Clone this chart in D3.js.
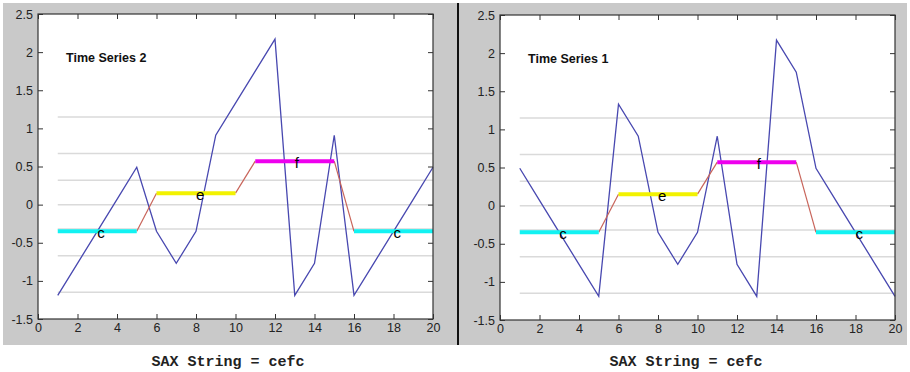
<!DOCTYPE html>
<html>
<head>
<meta charset="utf-8">
<script src="https://cdn.jsdelivr.net/npm/d3@7"></script>
<style>
	body { margin: 0; background: #fff; }
	svg { display: block; }
	.tick text { font-family: "Liberation Sans", Arial, sans-serif; font-size: 12.5px; fill: #222; }
	.tick line { stroke: #333; }
</style>
</head>
<body>
<div id="chart"></div>
<script>
// x = sample index
var xs = [1, 2, 3, 4, 5, 6, 7, 8, 9, 10, 11, 12, 13, 14, 15, 16, 17, 18, 19, 20];
var series2 = [-1.19, -0.77, -0.35, 0.07, 0.49, -0.35, -0.77, -0.35, 0.91, 1.33,
	1.75, 2.17, -1.19, -0.77, 0.91, -1.19, -0.77, -0.35, 0.07, 0.49];
var series1 = [0.49, 0.07, -0.35, -0.77, -1.19, 1.33, 0.91, -0.35, -0.77, -0.35,
	0.91, -0.77, -1.19, 2.17, 1.75, 0.49, 0.07, -0.35, -0.77, -1.19];

// SAX word (same for both)
var saxLetters = ["c", "e", "f", "c"];
var saxLevels = [-0.35, 0.15, 0.57, -0.35];
var segStart = [1, 6, 11, 16];
var segEnd = [5, 10, 15, 20];
var letterColor = {"c": "#12f2f2", "e": "#f2f200", "f": "#ee00ee"};

// breakpoints (alphabet of 8)
var breakpoints = [-1.15, -0.67, -0.32, 0, 0.32, 0.67, 1.15];

var xTicks = [0, 2, 4, 6, 8, 10, 12, 14, 16, 18, 20];
var yTicks = [-1.5, -1, -0.5, 0, 0.5, 1, 1.5, 2, 2.5];

var titles = ["Time Series 2", "Time Series 1"];
var captions = ["SAX String = cefc", "SAX String = cefc"];

var svg = d3.select("#chart").append("svg")
	.attr("width", 910)
	.attr("height", 372);

// grey figure background + divider
svg.append("rect")
	.attr("x", 3).attr("y", 3)
	.attr("width", 904).attr("height", 342)
	.attr("fill", "#c9c9c9");
svg.append("line")
	.attr("x1", 458).attr("x2", 458)
	.attr("y1", 3).attr("y2", 345)
	.attr("stroke", "#111")
	.attr("stroke-width", 2);

var panels = [
	{data: series2, title: titles[0], caption: captions[0], left: 38, right: 433, top: 14, bottom: 319, cx: 228},
	{data: series1, title: titles[1], caption: captions[1], left: 500, right: 895, top: 15, bottom: 320, cx: 686}
];

panels.forEach(function(p) {
	var xScale = d3.scaleLinear().domain([0, 20]).range([p.left, p.right]);
	var yScale = d3.scaleLinear().domain([-1.5, 2.5]).range([p.bottom, p.top]);

	var g = svg.append("g");

	g.append("rect")
		.attr("x", p.left).attr("y", p.top)
		.attr("width", p.right - p.left)
		.attr("height", p.bottom - p.top)
		.attr("fill", "#fff");

	// breakpoint lines
	g.selectAll(".bp")
		.data(breakpoints)
		.enter()
		.append("line")
		.attr("class", "bp")
		.attr("x1", xScale(xs[0]))
		.attr("x2", xScale(xs[xs.length - 1]))
		.attr("y1", function(d) { return yScale(d); })
		.attr("y2", function(d) { return yScale(d); })
		.attr("stroke", "#dadada")
		.attr("stroke-width", 1.5);

	// raw series
	var line = d3.line()
		.x(function(d, i) { return xScale(xs[i]); })
		.y(function(d) { return yScale(d); });
	g.append("path")
		.datum(p.data)
		.attr("d", line)
		.attr("fill", "none")
		.attr("stroke", "#4848b0")
		.attr("stroke-width", 1.3);

	// connectors between PAA segments
	for (var i = 0; i < saxLevels.length - 1; i++) {
		g.append("line")
			.attr("x1", xScale(segEnd[i]))
			.attr("y1", yScale(saxLevels[i]))
			.attr("x2", xScale(segStart[i + 1]))
			.attr("y2", yScale(saxLevels[i + 1]))
			.attr("stroke", "#c8645a")
			.attr("stroke-width", 1.2);
	}

	// PAA segments
	g.selectAll(".seg")
		.data(saxLevels)
		.enter()
		.append("line")
		.attr("class", "seg")
		.attr("x1", function(d, i) { return xScale(segStart[i]); })
		.attr("x2", function(d, i) { return xScale(segEnd[i]); })
		.attr("y1", function(d) { return yScale(d); })
		.attr("y2", function(d) { return yScale(d); })
		.attr("stroke", function(d, i) { return letterColor[saxLetters[i]]; })
		.attr("stroke-width", 4);

	g.selectAll(".letter")
		.data(saxLevels)
		.enter()
		.append("text")
		.attr("class", "letter")
		.attr("x", function(d, i) { return xScale(segStart[i] + 2); })
		.attr("y", function(d) { return yScale(d) + 6.5; })
		.style("font-family", "Liberation Sans, Arial, sans-serif")
		.style("font-size", "15px")
		.attr("fill", "#000")
		.text(function(d, i) { return saxLetters[i]; });

	g.append("text")
		.attr("x", p.left + 28)
		.attr("y", p.top + 48)
		.style("font-family", "Liberation Sans, Arial, sans-serif")
		.style("font-size", "12.5px")
		.style("font-weight", "bold")
		.attr("fill", "#111")
		.text(p.title);

	// axes, ticks pointing inward
	g.append("g")
		.attr("transform", "translate(0," + p.bottom + ")")
		.call(d3.axisBottom(xScale).tickValues(xTicks).tickSize(-5).tickPadding(4)
			.tickFormat(function(d) { return String(d); }))
		.select(".domain").remove();
	g.append("g")
		.attr("transform", "translate(0," + p.top + ")")
		.call(d3.axisTop(xScale).tickValues(xTicks).tickSize(-5).tickFormat(""))
		.select(".domain").remove();
	g.append("g")
		.attr("transform", "translate(" + p.left + ",0)")
		.call(d3.axisLeft(yScale).tickValues(yTicks).tickSize(-5).tickPadding(5)
			.tickFormat(function(d) { return String(d); }))
		.select(".domain").remove();
	g.append("g")
		.attr("transform", "translate(" + p.right + ",0)")
		.call(d3.axisRight(yScale).tickValues(yTicks).tickSize(-5).tickFormat(""))
		.select(".domain").remove();

	g.append("rect")
		.attr("x", p.left).attr("y", p.top)
		.attr("width", p.right - p.left)
		.attr("height", p.bottom - p.top)
		.attr("fill", "none")
		.attr("stroke", "#333")
		.attr("stroke-width", 1.2);

	svg.append("text")
		.attr("x", p.cx)
		.attr("y", 366)
		.attr("text-anchor", "middle")
		.style("font-family", "Liberation Mono, Courier New, monospace")
		.style("font-size", "15px")
		.style("font-weight", "bold")
		.attr("fill", "#222")
		.text(p.caption);
});
</script>
</body>
</html>
